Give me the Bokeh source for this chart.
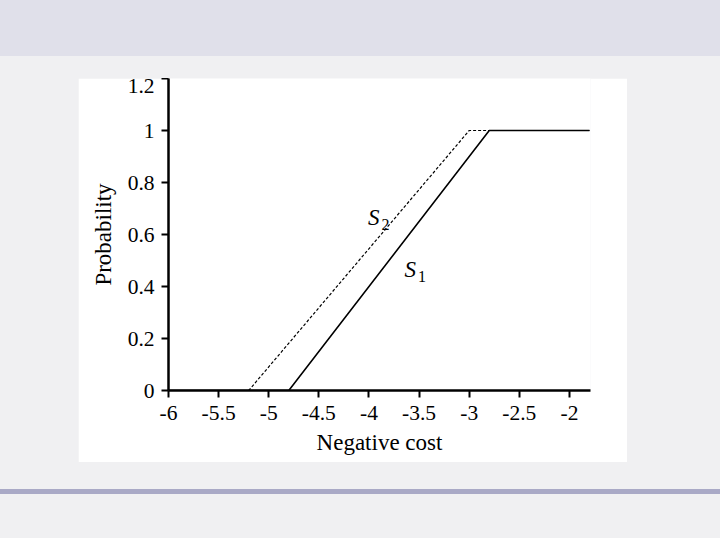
from bokeh.plotting import figure
from bokeh.embed import file_html
from bokeh.resources import INLINE
from bokeh.layouts import column, row
from bokeh.models import Div, Spacer, FixedTicker
from bokeh.core.properties import value

# ---- data ----
s1_cost = [-6.0, -4.8, -2.8, -1.8]
s1_prob = [0.0, 0.0, 1.0, 1.0]
s2_cost = [-6.0, -5.2, -3.0, -1.8]
s2_prob = [0.0, 0.0, 1.0, 1.0]

x_ticks = [-6, -5.5, -5, -4.5, -4, -3.5, -3, -2.5, -2]
x_tick_labels = ["-6", "-5.5", "-5", "-4.5", "-4", "-3.5", "-3", "-2.5", "-2"]
y_ticks = [0, 0.2, 0.4, 0.6, 0.8, 1.0, 1.2]
y_tick_labels = ["0", "0.2", "0.4", "0.6", "0.8", "1", "1.2"]

series_names = ["S", "S"]
series_subs = ["2", "1"]

FONT = "Liberation Serif"
BG = "#f0f0f2"

p = figure(width=549, height=384, x_range=(-6, -1.79), y_range=(0, 1.2),
           output_backend="svg", toolbar_location=None,
           min_border_left=90, min_border_right=37, min_border_top=0, min_border_bottom=72)
p.background_fill_color = "white"
p.border_fill_color = "white"
p.outline_line_color = None
p.grid.visible = False

p.line(s2_cost, s2_prob, line_color="black", line_width=1.2, line_dash="3 2")
p.line(s1_cost, s1_prob, line_color="black", line_width=1.6)

# series labels (annotation positions)
p.text(x=[-4.01], y=[0.665], text=[series_names[0]], text_font=value(FONT),
       text_font_size="23px", text_font_style="italic", text_baseline="alphabetic")
p.text(x=[-3.875], y=[0.64], text=[series_subs[0]], text_font=value(FONT),
       text_font_size="16px", text_baseline="alphabetic")
p.text(x=[-3.645], y=[0.465], text=[series_names[1]], text_font=value(FONT),
       text_font_size="23px", text_font_style="italic", text_baseline="alphabetic")
p.text(x=[-3.51], y=[0.44], text=[series_subs[1]], text_font=value(FONT),
       text_font_size="16px", text_baseline="alphabetic")

for ax in (p.xaxis[0], p.yaxis[0]):
    ax.axis_line_width = 2.5
    ax.axis_line_color = "black"
    ax.major_tick_line_width = 2
    ax.major_tick_line_color = "black"
    ax.major_tick_out = 7
    ax.major_tick_in = 0
    ax.minor_tick_line_color = None
    ax.major_label_text_font = FONT
    ax.major_label_text_font_size = "21.5px"
    ax.major_label_text_color = "black"
    ax.axis_label_text_font = FONT
    ax.axis_label_text_font_size = "23px"
    ax.axis_label_text_font_style = "normal"
    ax.axis_label_text_color = "black"

p.xaxis.ticker = FixedTicker(ticks=x_ticks)
p.xaxis.major_label_overrides = {t: l for t, l in zip(x_ticks, x_tick_labels)}
p.yaxis.ticker = FixedTicker(ticks=y_ticks)
p.yaxis.major_label_overrides = {t: l for t, l in zip(y_ticks, y_tick_labels)}
p.xaxis.axis_label = "Negative cost"
p.yaxis.axis_label = "Probability"
p.xaxis.major_label_standoff = 8
p.yaxis.major_label_standoff = 7
p.xaxis.axis_label_standoff = 7
p.yaxis.axis_label_standoff = 9

band = Div(text="", width=720, height=56, margin=0,
           styles={"background-color": "#e0e0ea"})
line_div = Div(text="", width=720, height=5, margin=0,
               styles={"background-color": "#a9a9c6"})
layout = column(
    band,
    Spacer(width=720, height=22, margin=0),
    row(Spacer(width=78, height=384, margin=0), p, Spacer(width=93, height=384, margin=0)),
    Spacer(width=720, height=27, margin=0),
    line_div,
    Spacer(width=720, height=44, margin=0),
    styles={"background-color": BG},
)

open("out.html", "w").write(file_html(layout, INLINE))
